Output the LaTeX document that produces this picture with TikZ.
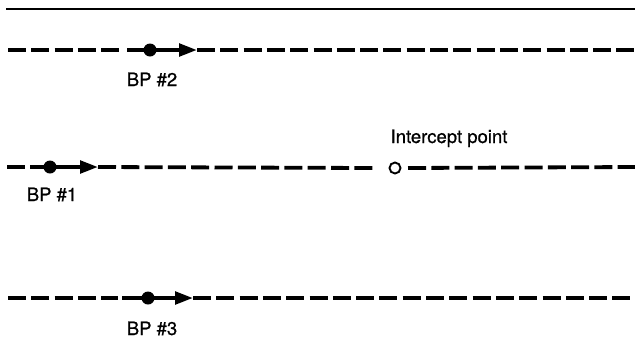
\documentclass[tikz,border=0pt]{standalone}
\usepackage{fontspec}
\setmainfont{TeX Gyre Heros}
\newfontfamily\lblfont[FakeBold=0.7]{TeX Gyre Heros}
\usetikzlibrary{arrows.meta}
\tikzset{
  track/.style={line width=3.8bp, dash pattern=on 18bp off 5.3bp},
  heading/.style={line width=3.8bp, -{Triangle[length=18bp,width=12.5bp]}},
  bpdot/.style={circle, fill=black, inner sep=0pt, minimum size=13bp},
  hollow/.style={circle, draw=black, line width=1.9bp, fill=white, inner sep=0pt, minimum size=11bp},
  lbl/.style={font=\lblfont\fontsize{18.5bp}{22bp}\selectfont, anchor=base, inner sep=0pt}
}
\begin{document}
\begin{tikzpicture}[x=1bp, y=-1bp]
\useasboundingbox (0,0) rectangle (635,340);

% top border
\coordinate (tl) at (6,9);
\coordinate (tr) at (635,9);
\draw[line width=1.6bp] (tl) -- (tr);

% track of BP #2
\coordinate (a2) at (8,50);
\coordinate (s2) at (127,50);
\coordinate (t2) at (197,50);
\coordinate (e2) at (635,50);
\draw[track] (a2) -- ([xshift=-4bp]s2);
\draw[heading] (s2) -- (t2);
\draw[track] (t2) -- (e2);
\node[bpdot] (d2) at (150,50) {};
\node[lbl] (n2) at (152,86) {BP \#2};

% track of BP #1 with the intercept point
\coordinate (a1) at (7,167);
\coordinate (s1) at (30,167);
\coordinate (t1) at (98,167);
\coordinate (e1) at (635,167);
\node[hollow] (ip) at (395,168) {};
\draw[track] (a1) -- ([xshift=-4bp]s1);
\draw[heading] (s1) -- (t1);
\draw[track] (t1) -- ([xshift=-22.7bp]ip.center);
\draw[track] ([xshift=13bp]ip.center) -- (e1);
\node[bpdot] (d1) at (50,167) {};
\node[lbl] (n1) at (52,201) {BP \#1};
\node[lbl] (nip) at (449,143) {Intercept point};

% track of BP #3
\coordinate (a3) at (8,298);
\coordinate (s3) at (122,298);
\coordinate (t3) at (193,298);
\coordinate (e3) at (635,298);
\draw[track] (a3) -- ([xshift=-4bp]s3);
\draw[heading] (s3) -- (t3);
\draw[track] (t3) -- (e3);
\node[bpdot] (d3) at (148,298) {};
\node[lbl] (n3) at (152,335) {BP \#3};
\end{tikzpicture}
\end{document}
